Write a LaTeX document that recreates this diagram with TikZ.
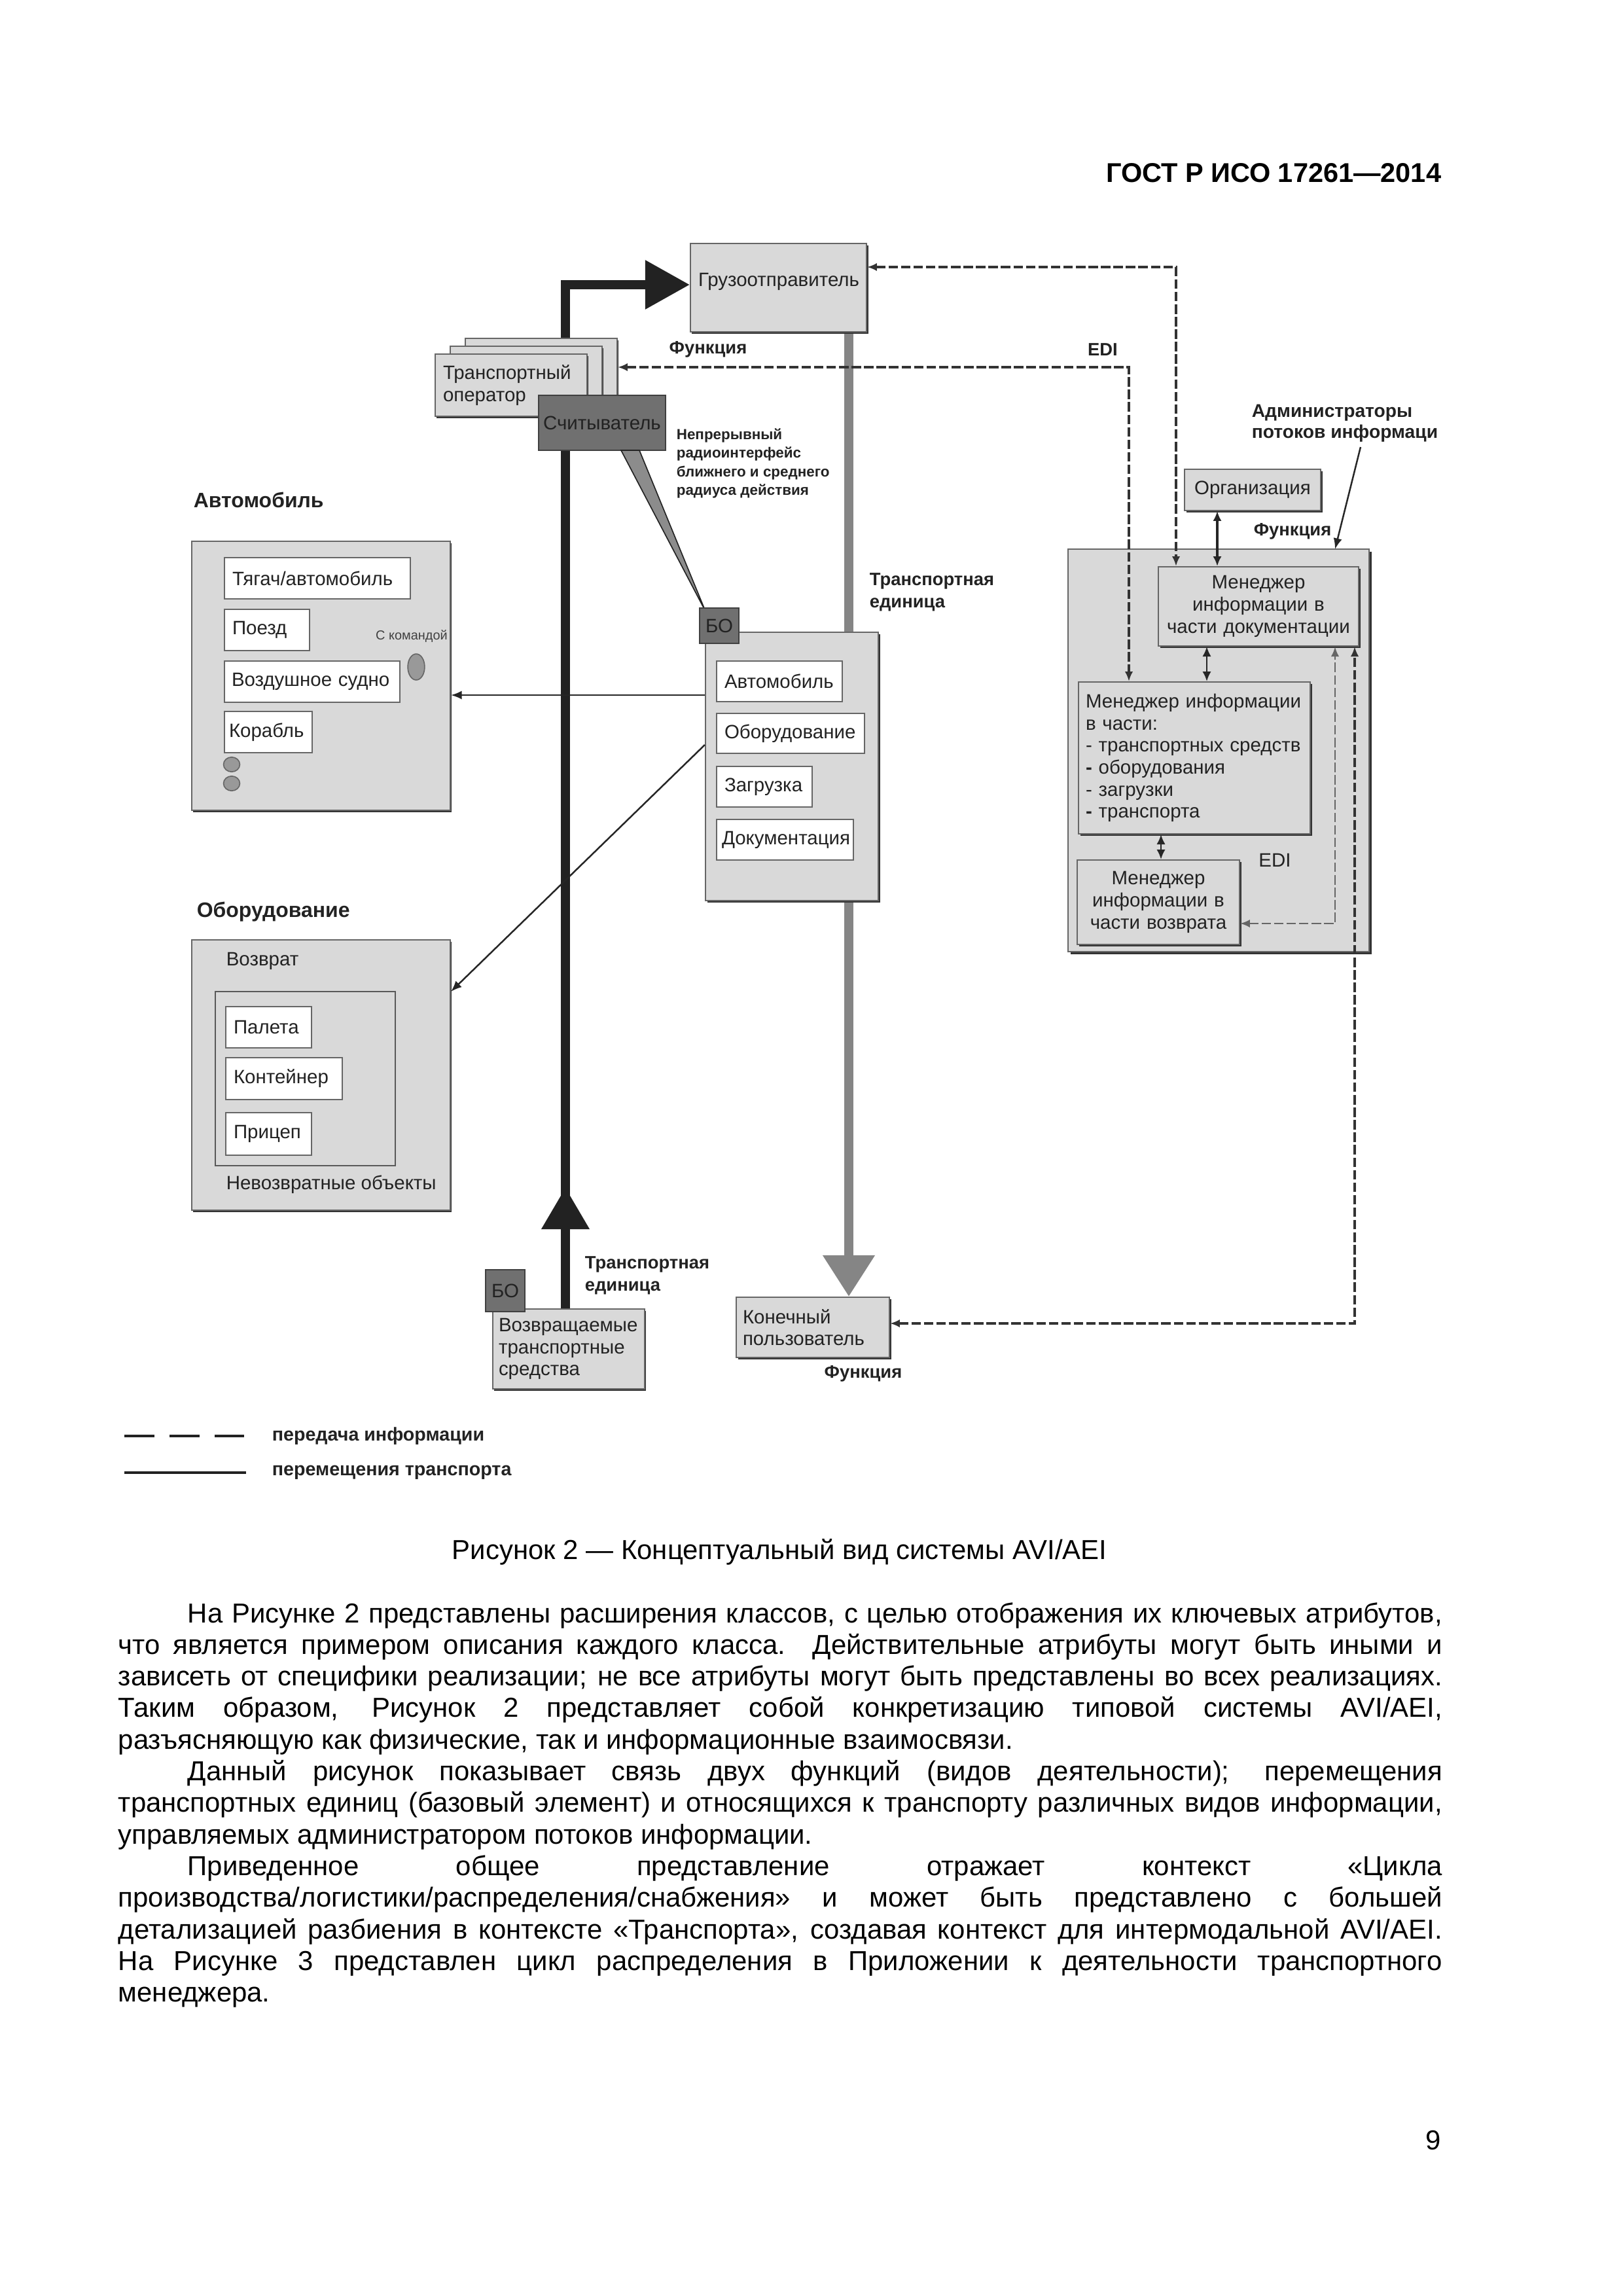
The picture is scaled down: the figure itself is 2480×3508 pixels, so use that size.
\documentclass[tikz,border=0pt]{standalone}
\usepackage{fontspec}
\setmainfont{Liberation Sans}
\usetikzlibrary{arrows.meta,shadows}
\pgfdeclarelayer{bg}
\pgfsetlayers{bg,main}
\definecolor{boxg}{HTML}{D9D9D9}
\definecolor{bodark}{HTML}{707070}
\definecolor{gline}{HTML}{858585}
\definecolor{ink}{HTML}{222222}
\newcommand{\dtxt}{\fontsize{7.1}{8.1}\selectfont}
\newcommand{\mkbox}[8]{%
 \pgfmathsetmacro{\mybw}{(#5-#3)*0.240931}%
 \pgfmathsetmacro{\mybh}{(#6-#4)*0.240931}%
 \pgfmathsetmacro{\mytw}{(#5-#3-2*#7)*0.240931}%
 \pgfmathsetmacro{\mypd}{#7*0.240931}%
 \pgfmathsetmacro{\mycx}{(#3+#5)/2}%
 \pgfmathsetmacro{\mycy}{(#4+#6)/2}%
 \node[#1, inner ysep=0pt, inner xsep=\mypd pt, text width=\mytw pt, minimum width=\mybw pt, minimum height=\mybh pt] (#2) at (\mycx,\mycy) {#8};}
\tikzset{
 gbox/.style={draw=black!60, line width=0.5pt, fill=boxg, text=ink, font=\dtxt, drop shadow={shadow xshift=0.6pt, shadow yshift=-0.6pt, fill=black!80, opacity=1}},
 bigbox/.style={draw=black!60, line width=0.5pt, fill=boxg, drop shadow={shadow xshift=1pt, shadow yshift=-1pt, fill=black!80, opacity=1}},
 wbox/.style={draw=black!60, line width=0.45pt, fill=white, text=ink, font=\dtxt, drop shadow={shadow xshift=0.3pt, shadow yshift=-0.3pt, fill=black!70, opacity=1}},
 dbox/.style={draw=black!75, line width=0.5pt, fill=bodark, text=ink, font=\dtxt},
 frm/.style={draw=black!65, line width=0.5pt},
 lft/.style={align=left}, ctr/.style={align=center},
 lbl/.style={font=\fontsize{6.6}{8.2}\selectfont\bfseries, text=ink, inner sep=0pt},
 dt/.style={font=\dtxt, text=ink, inner sep=0pt},
 conn/.style={draw=black!85, line width=0.6pt, -{Latex[length=4pt,width=3.2pt]}},
 dbl/.style={draw=black!85, line width=0.6pt, {Latex[length=3.6pt,width=3.2pt]}-{Latex[length=3.6pt,width=3.2pt]}},
 dconn/.style={draw=black!80, line width=0.8pt, dash pattern=on 3.5pt off 1.1pt, {Latex[length=3.6pt,width=3pt]}-{Latex[length=3.6pt,width=3pt]}},
 ldconn/.style={dconn, draw=black!60, line width=0.7pt},
 blk/.style={draw=ink, line width=3.2pt, -{Triangle[length=16.4pt,width=17.3pt]}},
 gry/.style={draw=gline, line width=3.5pt, -{Triangle[length=15.2pt,width=18.3pt]}},
 body/.style={font=\fontsize{10.1}{11.6}\selectfont, inner sep=0pt, anchor=base west},
}
\begin{document}
\begin{tikzpicture}[x=0.240931pt, y=-0.240931pt]
\useasboundingbox (0,0) rectangle (2480,3508);
\begin{pgfonlayer}{bg}
\fill[white] (0,0) rectangle (2480,3508);
\end{pgfonlayer}

% header
\node[font=\fontsize{10}{12}\selectfont\bfseries, anchor=base east, inner sep=0pt] (hdr) at (2203,278) {ГОСТ Р ИСО 17261—2014};

% shipper
\mkbox{gbox}{G}{1055}{372}{1324}{507}{0}{}
\node[dt] (Gt) at (1190,430) {Грузоотправитель};

% transport operator stack
\mkbox{gbox}{TO3}{711}{517}{943}{612}{0}{}
\mkbox{gbox}{TO2}{688}{529}{920}{624}{0}{}
\mkbox{gbox,lft}{TO}{665}{541}{897}{636}{12}{Транспортный\\оператор}
\mkbox{dbox,ctr}{R}{823}{604}{1017}{688}{0}{Считыватель}
\filldraw[fill=black!45, draw=ink, line width=0.4pt] (949,688) -- (977,688) -- (1078,934) -- cycle;

% transport unit block
\mkbox{gbox}{M}{1078}{966}{1342}{1376}{0}{}
\mkbox{wbox,lft}{M1}{1095}{1010}{1287}{1072}{12}{Автомобиль}
\mkbox{wbox,lft}{M2}{1095}{1090}{1321}{1151}{12}{Оборудование}
\mkbox{wbox,lft}{M3}{1095}{1171}{1241}{1233}{12}{Загрузка}
\mkbox{wbox,lft}{M4}{1095}{1252}{1304}{1314}{8}{Документация}
\mkbox{dbox,ctr}{Bm}{1069}{929}{1129}{983}{0}{БО}

% vehicle box
\node[lbl, font=\fontsize{7.7}{9}\selectfont\bfseries, anchor=west] (Ah) at (295,764) {Автомобиль};
\mkbox{gbox}{A}{293}{827}{688}{1238}{0}{}
\mkbox{wbox,lft}{A1}{343}{852}{627}{915}{12}{Тягач/автомобиль}
\mkbox{wbox,lft}{A2}{343}{931}{473}{994}{12}{Поезд}
\mkbox{wbox,lft}{A3}{343}{1010}{611}{1073}{11}{Воздушное судно}
\mkbox{wbox,lft}{A4}{343}{1087}{477}{1150}{7}{Корабль}
\filldraw[fill=black!40, draw=black!60, line width=0.4pt] (636,1019) ellipse [x radius=3.1pt, y radius=4.8pt];
\filldraw[fill=black!40, draw=black!60, line width=0.4pt] (354,1168) ellipse [x radius=3pt, y radius=2.7pt];
\filldraw[fill=black!40, draw=black!60, line width=0.4pt] (354,1197) ellipse [x radius=3pt, y radius=2.7pt];
\node[font=\fontsize{4.8}{5.5}\selectfont, text=black!75, inner sep=0pt] (Ak) at (629,972) {С командой};

% equipment box
\node[lbl, font=\fontsize{7.7}{9}\selectfont\bfseries, anchor=west] (Eh) at (300,1393) {Оборудование};
\mkbox{gbox}{E}{293}{1436}{688}{1849}{0}{}
\node[dt, anchor=west] (Ev) at (345,1468) {Возврат};
\mkbox{frm}{F}{329}{1515}{604}{1781}{0}{}
\mkbox{wbox,lft}{E1}{345}{1538}{476}{1601}{12}{Палета}
\mkbox{wbox,lft}{E2}{345}{1616}{523}{1680}{12}{Контейнер}
\mkbox{wbox,lft}{E3}{345}{1700}{476}{1765}{12}{Прицеп}
\node[dt, anchor=west] (En) at (345,1810) {Невозвратные объекты};

% bottom
\mkbox{gbox,lft}{V}{753}{2000}{985}{2122}{9}{Возвращаемые\\транспортные\\средства}
\mkbox{dbox,ctr}{Bb}{742}{1940}{802}{2004}{0}{БО}
\mkbox{gbox,lft}{K}{1125}{1982}{1359}{2074}{10}{Конечный\\пользователь}

% information managers
\mkbox{bigbox}{B}{1632}{839}{2092}{1454}{0}{}
\mkbox{gbox,ctr}{O}{1810}{717}{2018}{780}{0}{Организация}
\mkbox{gbox,ctr}{Dm}{1770}{866}{2076}{987}{0}{Менеджер\\информации в\\части документации}
\mkbox{gbox,lft}{P}{1648}{1042}{2002}{1274}{11}{Менеджер информации\\в части:\\- транспортных средств\\{\bfseries -} оборудования\\- загрузки\\{\bfseries -} транспорта}
\mkbox{gbox,ctr}{Rt}{1646}{1314}{1894}{1443}{0}{Менеджер\\информации в\\части возврата}
\node[dt] (lEDI2) at (1948,1314) {EDI};

% bold labels
\node[lbl] (lFunc1) at (1082,534) {Функция};
\node[lbl] (lEDI1) at (1685,534) {EDI};
\node[lbl, align=left, anchor=west] (lTU1) at (1328,905) {Транспортная\\единица};
\node[lbl, align=left, anchor=west] (lTU2) at (893,1949) {Транспортная\\единица};
\node[lbl] (lFunc3) at (1319,2099) {Функция};
\node[lbl] (lFunc2) at (1975,812) {Функция};
\node[font=\fontsize{5.4}{6.9}\selectfont\bfseries, text=ink, align=left, anchor=west, inner sep=0pt] (lRadio) at (1033,708) {Непрерывный\\радиоинтерфейс\\ближнего и среднего\\радиуса действия};
\node[lbl, font=\fontsize{6.8}{7.7}\selectfont\bfseries, align=left, anchor=west] (lAdm) at (1912,647) {Администраторы\\потоков информаци};

% thick transport arrows
\coordinate (bk) at (864,435);
\coordinate (gx) at (1297,0);
\begin{pgfonlayer}{bg}
\draw[blk] (V.north -| bk) -- (bk) -- (G.west |- bk);
\draw[gry] (G.south -| gx) -- (K.north -| gx);
\end{pgfonlayer}
\fill[ink] (827,1878) -- (901,1878) -- (864,1815) -- cycle;

% thin connectors
\coordinate (ya) at (0,1062);
\coordinate (yb) at (0,1138);
\coordinate (ye) at (0,1515);
\draw[conn] (M.west |- ya) -- (A.east |- ya);
\draw[conn] (M.west |- yb) -- (E.east |- ye);
\coordinate (admS) at (2079,683);
\coordinate (admE) at (2040,839);
\draw[conn] (admS) -- (admE);

\coordinate (xo) at (1860,0);
\coordinate (xp) at (1844,0);
\coordinate (xr) at (1774,0);
\draw[dbl, line width=1pt] (O.south -| xo) -- (Dm.north -| xo);
\draw[dbl] (Dm.south -| xp) -- (P.north -| xp);
\draw[dbl] (P.south -| xr) -- (Rt.north -| xr);

% dashed information links
\coordinate (c1) at (1797,408);
\coordinate (c2) at (1725,561);
\coordinate (c3) at (2040,1411);
\coordinate (c4) at (2070,2022);
\draw[dconn] (G.east |- c1) -- (c1) -- (Dm.north -| c1);
\draw[dconn] (TO3.east |- c2) -- (c2) -- (P.north -| c2);
\draw[ldconn] (Rt.east |- c3) -- (c3) -- (Dm.south -| c3);
\draw[dconn] (K.east |- c4) -- (c4) -- (Dm.south -| c4);

% legend
\coordinate (lg1a) at (190,2194);
\coordinate (lg1b) at (376,2194);
\coordinate (lg2a) at (190,2250);
\coordinate (lg2b) at (376,2250);
\draw[draw=ink, line width=1pt, dash pattern=on 11pt off 5.6pt] (lg1a) -- (lg1b);
\draw[draw=ink, line width=1pt] (lg2a) -- (lg2b);
\node[font=\fontsize{6.9}{8}\selectfont\bfseries, text=ink, anchor=west, inner sep=0pt] (lg1t) at (415,2194) {передача информации};
\node[font=\fontsize{6.9}{8}\selectfont\bfseries, text=ink, anchor=west, inner sep=0pt] (lg2t) at (415,2250) {перемещения транспорта};

% caption
\node[font=\fontsize{10.1}{11.6}\selectfont, anchor=base, inner sep=0pt] (cap) at (1191,2382) {Рисунок 2 — Концептуальный вид системы AVI/AEI};

% body text
\node[body] (p1) at (286,2479) {\makebox[461.9pt][s]{На Рисунке 2 представлены расширения классов, с целью отображения их ключевых атрибутов,}};
\node[body] (p2) at (180,2527.3) {\makebox[487.4pt][s]{что является примером описания каждого класса. Действительные атрибуты могут быть иными и}};
\node[body] (p3) at (180,2575.6) {\makebox[487.4pt][s]{зависеть от специфики реализации; не все атрибуты могут быть представлены во всех реализациях.}};
\node[body] (p4) at (180,2623.9) {\makebox[487.4pt][s]{Таким образом, Рисунок 2 представляет собой конкретизацию типовой системы AVI/AEI,}};
\node[body] (p5) at (180,2672.2) {разъясняющую как физические, так и информационные взаимосвязи.};
\node[body] (p6) at (286,2720.5) {\makebox[461.9pt][s]{Данный рисунок показывает связь двух функций (видов деятельности); перемещения}};
\node[body] (p7) at (180,2768.8) {\makebox[487.4pt][s]{транспортных единиц (базовый элемент) и относящихся к транспорту различных видов информации,}};
\node[body] (p8) at (180,2817.1) {управляемых администратором потоков информации.};
\node[body] (p9) at (286,2865.4) {\makebox[461.9pt][s]{Приведенное общее представление отражает контекст «Цикла}};
\node[body] (p10) at (180,2913.7) {\makebox[487.4pt][s]{производства/логистики/распределения/снабжения» и может быть представлено с большей}};
\node[body] (p11) at (180,2962) {\makebox[487.4pt][s]{детализацией разбиения в контексте «Транспорта», создавая контекст для интермодальной AVI/AEI.}};
\node[body] (p12) at (180,3010.3) {\makebox[487.4pt][s]{На Рисунке 3 представлен цикл распределения в Приложении к деятельности транспортного}};
\node[body] (p13) at (180,3058.6) {менеджера.};

% page number
\node[font=\fontsize{10.1}{12}\selectfont, anchor=base east, inner sep=0pt] (pg) at (2203,3284) {9};
\end{tikzpicture}
\end{document}
